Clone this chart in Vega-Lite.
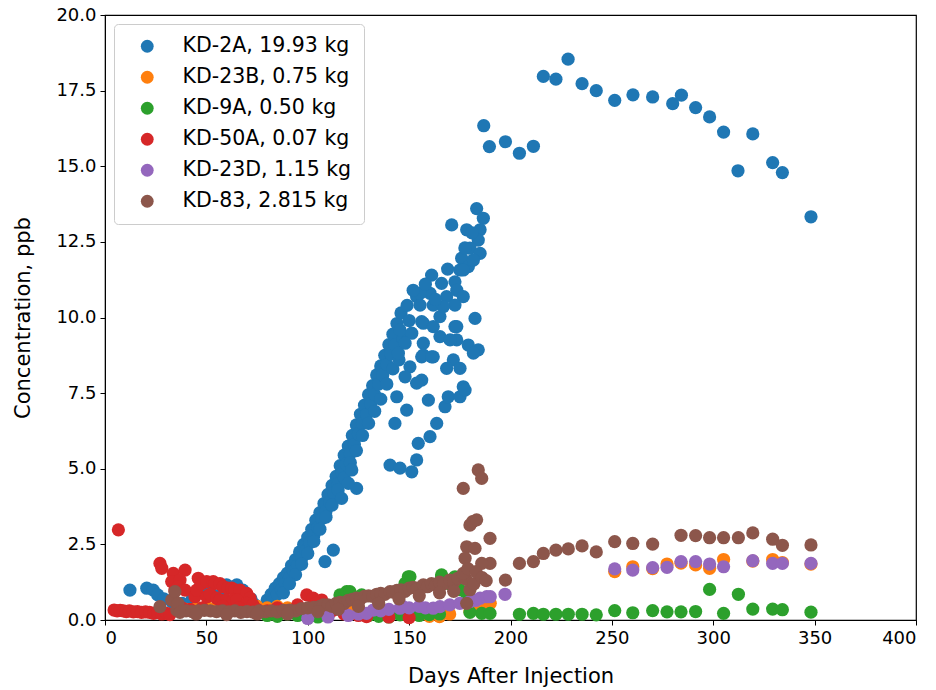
{
  "$schema": "https://vega.github.io/schema/vega-lite/v6.json",
  "width": 811,
  "height": 605,
  "autosize": "none",
  "padding": {"left": 105, "top": 15, "right": 20, "bottom": 70},
  "background": "white",
  "config": {
    "font": "DejaVu Sans",
    "view": {"stroke": "black", "strokeWidth": 1.2},
    "axis": {"grid": false, "domainColor": "black", "tickColor": "black", "tickSize": 5, "labelFontSize": 18, "labelColor": "black", "titleFontSize": 21, "titleFontWeight": "normal", "titleColor": "black", "labelFont": "DejaVu Sans", "titleFont": "DejaVu Sans"}
  },
  "data": {"values": [
    {"series":"KD-2A, 19.93 kg","day":12.3,"ppb":0.99},{"series":"KD-2A, 19.93 kg","day":20.6,"ppb":1.05},{"series":"KD-2A, 19.93 kg","day":23.8,"ppb":0.99},{"series":"KD-2A, 19.93 kg","day":26,"ppb":0.83},{"series":"KD-2A, 19.93 kg","day":29,"ppb":0.7},{"series":"KD-2A, 19.93 kg","day":33,"ppb":0.6},{"series":"KD-2A, 19.93 kg","day":38,"ppb":0.55},{"series":"KD-2A, 19.93 kg","day":43,"ppb":0.7},{"series":"KD-2A, 19.93 kg","day":47,"ppb":1.1},{"series":"KD-2A, 19.93 kg","day":52,"ppb":0.9},{"series":"KD-2A, 19.93 kg","day":56,"ppb":0.8},{"series":"KD-2A, 19.93 kg","day":60,"ppb":1.16},{"series":"KD-2A, 19.93 kg","day":65,"ppb":1.16},{"series":"KD-2A, 19.93 kg","day":68,"ppb":0.99},{"series":"KD-2A, 19.93 kg","day":72,"ppb":0.7},{"series":"KD-2A, 19.93 kg","day":74,"ppb":0.5},{"series":"KD-2A, 19.93 kg","day":76,"ppb":0.4},
    {"series":"KD-2A, 19.93 kg","day":78,"ppb":0.4},{"series":"KD-2A, 19.93 kg","day":80,"ppb":0.66},{"series":"KD-2A, 19.93 kg","day":82,"ppb":0.85},{"series":"KD-2A, 19.93 kg","day":84,"ppb":1.05},{"series":"KD-2A, 19.93 kg","day":86,"ppb":1.2},{"series":"KD-2A, 19.93 kg","day":88,"ppb":1.4},{"series":"KD-2A, 19.93 kg","day":90,"ppb":1.55},{"series":"KD-2A, 19.93 kg","day":92,"ppb":1.8},{"series":"KD-2A, 19.93 kg","day":94,"ppb":2.0},{"series":"KD-2A, 19.93 kg","day":96,"ppb":2.25},{"series":"KD-2A, 19.93 kg","day":98,"ppb":2.5},{"series":"KD-2A, 19.93 kg","day":100,"ppb":2.74},{"series":"KD-2A, 19.93 kg","day":102,"ppb":3.0},{"series":"KD-2A, 19.93 kg","day":104,"ppb":3.3},{"series":"KD-2A, 19.93 kg","day":106,"ppb":3.55},{"series":"KD-2A, 19.93 kg","day":108,"ppb":3.85},{"series":"KD-2A, 19.93 kg","day":110,"ppb":4.15},{"series":"KD-2A, 19.93 kg","day":112,"ppb":4.45},{"series":"KD-2A, 19.93 kg","day":114,"ppb":4.75},{"series":"KD-2A, 19.93 kg","day":116,"ppb":5.1},{"series":"KD-2A, 19.93 kg","day":118,"ppb":5.45},{"series":"KD-2A, 19.93 kg","day":120,"ppb":5.75},{"series":"KD-2A, 19.93 kg","day":122,"ppb":6.1},{"series":"KD-2A, 19.93 kg","day":124,"ppb":6.45},{"series":"KD-2A, 19.93 kg","day":126,"ppb":6.8},{"series":"KD-2A, 19.93 kg","day":128,"ppb":7.1},{"series":"KD-2A, 19.93 kg","day":130,"ppb":7.45},{"series":"KD-2A, 19.93 kg","day":132,"ppb":7.75},{"series":"KD-2A, 19.93 kg","day":134,"ppb":8.1},{"series":"KD-2A, 19.93 kg","day":136,"ppb":8.4},{"series":"KD-2A, 19.93 kg","day":138,"ppb":8.75},{"series":"KD-2A, 19.93 kg","day":140,"ppb":9.1},{"series":"KD-2A, 19.93 kg","day":142,"ppb":9.45},{"series":"KD-2A, 19.93 kg","day":144,"ppb":9.8},{"series":"KD-2A, 19.93 kg","day":146,"ppb":10.15},
    {"series":"KD-2A, 19.93 kg","day":81,"ppb":0.45},{"series":"KD-2A, 19.93 kg","day":83,"ppb":0.65},{"series":"KD-2A, 19.93 kg","day":85,"ppb":0.85},{"series":"KD-2A, 19.93 kg","day":87,"ppb":1.0},{"series":"KD-2A, 19.93 kg","day":89,"ppb":1.2},{"series":"KD-2A, 19.93 kg","day":91,"ppb":1.4},{"series":"KD-2A, 19.93 kg","day":93,"ppb":1.6},{"series":"KD-2A, 19.93 kg","day":95,"ppb":1.8},{"series":"KD-2A, 19.93 kg","day":97,"ppb":2.05},{"series":"KD-2A, 19.93 kg","day":99,"ppb":2.3},{"series":"KD-2A, 19.93 kg","day":101,"ppb":2.55},{"series":"KD-2A, 19.93 kg","day":103,"ppb":2.8},{"series":"KD-2A, 19.93 kg","day":105,"ppb":3.05},{"series":"KD-2A, 19.93 kg","day":107,"ppb":3.35},{"series":"KD-2A, 19.93 kg","day":109,"ppb":3.6},{"series":"KD-2A, 19.93 kg","day":111,"ppb":3.9},{"series":"KD-2A, 19.93 kg","day":113,"ppb":4.2},{"series":"KD-2A, 19.93 kg","day":115,"ppb":4.5},{"series":"KD-2A, 19.93 kg","day":117,"ppb":4.85},{"series":"KD-2A, 19.93 kg","day":119,"ppb":5.15},{"series":"KD-2A, 19.93 kg","day":121,"ppb":5.5},{"series":"KD-2A, 19.93 kg","day":123,"ppb":5.8},{"series":"KD-2A, 19.93 kg","day":125,"ppb":6.15},{"series":"KD-2A, 19.93 kg","day":127,"ppb":6.5},{"series":"KD-2A, 19.93 kg","day":129,"ppb":6.8},{"series":"KD-2A, 19.93 kg","day":131,"ppb":7.15},{"series":"KD-2A, 19.93 kg","day":133,"ppb":7.45},{"series":"KD-2A, 19.93 kg","day":135,"ppb":7.8},{"series":"KD-2A, 19.93 kg","day":137,"ppb":8.1},{"series":"KD-2A, 19.93 kg","day":139,"ppb":8.45},{"series":"KD-2A, 19.93 kg","day":141,"ppb":8.8},{"series":"KD-2A, 19.93 kg","day":143,"ppb":9.1},
    {"series":"KD-2A, 19.93 kg","day":88,"ppb":0.9},{"series":"KD-2A, 19.93 kg","day":94,"ppb":1.5},{"series":"KD-2A, 19.93 kg","day":100,"ppb":2.2},{"series":"KD-2A, 19.93 kg","day":106,"ppb":3.0},{"series":"KD-2A, 19.93 kg","day":112,"ppb":3.8},{"series":"KD-2A, 19.93 kg","day":118,"ppb":4.7},{"series":"KD-2A, 19.93 kg","day":124,"ppb":5.6},{"series":"KD-2A, 19.93 kg","day":130,"ppb":6.5},{"series":"KD-2A, 19.93 kg","day":136,"ppb":7.3},{"series":"KD-2A, 19.93 kg","day":142,"ppb":8.3},
    {"series":"KD-2A, 19.93 kg","day":91,"ppb":1.2},{"series":"KD-2A, 19.93 kg","day":97,"ppb":1.85},{"series":"KD-2A, 19.93 kg","day":103,"ppb":2.6},{"series":"KD-2A, 19.93 kg","day":109,"ppb":3.4},{"series":"KD-2A, 19.93 kg","day":115,"ppb":4.3},{"series":"KD-2A, 19.93 kg","day":121,"ppb":5.2},{"series":"KD-2A, 19.93 kg","day":127,"ppb":6.1},{"series":"KD-2A, 19.93 kg","day":133,"ppb":6.9},{"series":"KD-2A, 19.93 kg","day":139,"ppb":7.8},{"series":"KD-2A, 19.93 kg","day":145,"ppb":8.6},{"series":"KD-2A, 19.93 kg","day":147,"ppb":9.3},{"series":"KD-2A, 19.93 kg","day":150,"ppb":9.9},
    {"series":"KD-2A, 19.93 kg","day":183.3,"ppb":13.6},{"series":"KD-2A, 19.93 kg","day":186.6,"ppb":13.28},{"series":"KD-2A, 19.93 kg","day":185,"ppb":12.9},{"series":"KD-2A, 19.93 kg","day":184.1,"ppb":12.56},{"series":"KD-2A, 19.93 kg","day":171,"ppb":13.06},{"series":"KD-2A, 19.93 kg","day":178.4,"ppb":12.9},{"series":"KD-2A, 19.93 kg","day":180,"ppb":12.29},{"series":"KD-2A, 19.93 kg","day":185,"ppb":12.12},{"series":"KD-2A, 19.93 kg","day":175.9,"ppb":11.96},{"series":"KD-2A, 19.93 kg","day":175.1,"ppb":11.57},{"series":"KD-2A, 19.93 kg","day":179.2,"ppb":11.68},{"series":"KD-2A, 19.93 kg","day":161.1,"ppb":11.4},{"series":"KD-2A, 19.93 kg","day":166,"ppb":11.13},{"series":"KD-2A, 19.93 kg","day":172.6,"ppb":11.18},{"series":"KD-2A, 19.93 kg","day":173.5,"ppb":10.9},{"series":"KD-2A, 19.93 kg","day":153.7,"ppb":10.69},{"series":"KD-2A, 19.93 kg","day":160.3,"ppb":10.8},{"series":"KD-2A, 19.93 kg","day":168.5,"ppb":10.69},{"series":"KD-2A, 19.93 kg","day":176.7,"ppb":10.69},{"series":"KD-2A, 19.93 kg","day":155.4,"ppb":10.41},{"series":"KD-2A, 19.93 kg","day":161.9,"ppb":10.41},{"series":"KD-2A, 19.93 kg","day":172.6,"ppb":10.41},{"series":"KD-2A, 19.93 kg","day":165.2,"ppb":10.03},{"series":"KD-2A, 19.93 kg","day":182.5,"ppb":9.97},{"series":"KD-2A, 19.93 kg","day":157,"ppb":9.81},{"series":"KD-2A, 19.93 kg","day":161.9,"ppb":9.7},{"series":"KD-2A, 19.93 kg","day":172.6,"ppb":9.7},{"series":"KD-2A, 19.93 kg","day":145.5,"ppb":9.59},{"series":"KD-2A, 19.93 kg","day":151.3,"ppb":9.48},{"series":"KD-2A, 19.93 kg","day":165.2,"ppb":9.37},{"series":"KD-2A, 19.93 kg","day":173.5,"ppb":9.26},{"series":"KD-2A, 19.93 kg","day":148,"ppb":9.15},{"series":"KD-2A, 19.93 kg","day":157,"ppb":9.15},{"series":"KD-2A, 19.93 kg","day":179.2,"ppb":9.09},{"series":"KD-2A, 19.93 kg","day":184.1,"ppb":8.93},{"series":"KD-2A, 19.93 kg","day":144.7,"ppb":8.82},{"series":"KD-2A, 19.93 kg","day":157,"ppb":8.76},{"series":"KD-2A, 19.93 kg","day":171.8,"ppb":8.6},{"series":"KD-2A, 19.93 kg","day":150.4,"ppb":8.37},{"series":"KD-2A, 19.93 kg","day":161.9,"ppb":8.7},{"series":"KD-2A, 19.93 kg","day":168.5,"ppb":8.32},{"series":"KD-2A, 19.93 kg","day":175.1,"ppb":8.32},{"series":"KD-2A, 19.93 kg","day":148,"ppb":8.04},{"series":"KD-2A, 19.93 kg","day":156.2,"ppb":7.93},{"series":"KD-2A, 19.93 kg","day":176.7,"ppb":7.71},{"series":"KD-2A, 19.93 kg","day":181.7,"ppb":8.82},{"series":"KD-2A, 19.93 kg","day":156.2,"ppb":8.7},{"series":"KD-2A, 19.93 kg","day":161.1,"ppb":8.7},{"series":"KD-2A, 19.93 kg","day":170.2,"ppb":9.26},{"series":"KD-2A, 19.93 kg","day":173.5,"ppb":9.7},{"series":"KD-2A, 19.93 kg","day":156.2,"ppb":9.86},{"series":"KD-2A, 19.93 kg","day":166.9,"ppb":10.36},{"series":"KD-2A, 19.93 kg","day":155.4,"ppb":10.8},{"series":"KD-2A, 19.93 kg","day":176.7,"ppb":11.57},{"series":"KD-2A, 19.93 kg","day":181.7,"ppb":11.9},{"series":"KD-2A, 19.93 kg","day":149,"ppb":10.4},{"series":"KD-2A, 19.93 kg","day":152,"ppb":10.9},{"series":"KD-2A, 19.93 kg","day":158,"ppb":11.1},{"series":"KD-2A, 19.93 kg","day":163,"ppb":10.6},{"series":"KD-2A, 19.93 kg","day":169,"ppb":11.6},{"series":"KD-2A, 19.93 kg","day":177.5,"ppb":12.3},{"series":"KD-2A, 19.93 kg","day":181,"ppb":12.8},
    {"series":"KD-2A, 19.93 kg","day":140.6,"ppb":5.12},{"series":"KD-2A, 19.93 kg","day":145.5,"ppb":5.02},{"series":"KD-2A, 19.93 kg","day":151.3,"ppb":4.9},{"series":"KD-2A, 19.93 kg","day":153.7,"ppb":5.29},{"series":"KD-2A, 19.93 kg","day":154.5,"ppb":5.84},{"series":"KD-2A, 19.93 kg","day":160.3,"ppb":6.06},{"series":"KD-2A, 19.93 kg","day":163.6,"ppb":6.5},{"series":"KD-2A, 19.93 kg","day":167.7,"ppb":7.05},{"series":"KD-2A, 19.93 kg","day":169.3,"ppb":7.38},{"series":"KD-2A, 19.93 kg","day":175.1,"ppb":7.38},{"series":"KD-2A, 19.93 kg","day":177.6,"ppb":7.6},{"series":"KD-2A, 19.93 kg","day":159.5,"ppb":7.27},{"series":"KD-2A, 19.93 kg","day":143,"ppb":6.5},{"series":"KD-2A, 19.93 kg","day":143.9,"ppb":7.38},{"series":"KD-2A, 19.93 kg","day":148.8,"ppb":6.94},{"series":"KD-2A, 19.93 kg","day":153.7,"ppb":7.83},{"series":"KD-2A, 19.93 kg","day":124.1,"ppb":4.35},{"series":"KD-2A, 19.93 kg","day":120,"ppb":4.52},{"series":"KD-2A, 19.93 kg","day":121.7,"ppb":4.96},{"series":"KD-2A, 19.93 kg","day":116.7,"ppb":4.02},{"series":"KD-2A, 19.93 kg","day":112.6,"ppb":2.31},{"series":"KD-2A, 19.93 kg","day":108.5,"ppb":1.93},
    {"series":"KD-2A, 19.93 kg","day":186.8,"ppb":16.34},{"series":"KD-2A, 19.93 kg","day":189.6,"ppb":15.65},{"series":"KD-2A, 19.93 kg","day":197.5,"ppb":15.81},{"series":"KD-2A, 19.93 kg","day":204.4,"ppb":15.43},{"series":"KD-2A, 19.93 kg","day":211.3,"ppb":15.66},{"series":"KD-2A, 19.93 kg","day":216.2,"ppb":17.97},{"series":"KD-2A, 19.93 kg","day":222.4,"ppb":17.88},{"series":"KD-2A, 19.93 kg","day":228.4,"ppb":18.54},{"series":"KD-2A, 19.93 kg","day":235.3,"ppb":17.73},{"series":"KD-2A, 19.93 kg","day":242.3,"ppb":17.5},{"series":"KD-2A, 19.93 kg","day":251.4,"ppb":17.18},{"series":"KD-2A, 19.93 kg","day":260.4,"ppb":17.36},{"series":"KD-2A, 19.93 kg","day":270.1,"ppb":17.29},{"series":"KD-2A, 19.93 kg","day":280,"ppb":17.07},{"series":"KD-2A, 19.93 kg","day":284.3,"ppb":17.35},{"series":"KD-2A, 19.93 kg","day":291.3,"ppb":16.94},{"series":"KD-2A, 19.93 kg","day":298.2,"ppb":16.63},{"series":"KD-2A, 19.93 kg","day":305.1,"ppb":16.13},{"series":"KD-2A, 19.93 kg","day":312.2,"ppb":14.85},{"series":"KD-2A, 19.93 kg","day":319.5,"ppb":16.07},{"series":"KD-2A, 19.93 kg","day":329.3,"ppb":15.12},{"series":"KD-2A, 19.93 kg","day":334.1,"ppb":14.79},{"series":"KD-2A, 19.93 kg","day":348.2,"ppb":13.33},

    {"series":"KD-23B, 0.75 kg","day":40,"ppb":0.35},{"series":"KD-23B, 0.75 kg","day":45,"ppb":0.4},{"series":"KD-23B, 0.75 kg","day":50,"ppb":0.45},{"series":"KD-23B, 0.75 kg","day":55,"ppb":0.4},{"series":"KD-23B, 0.75 kg","day":60,"ppb":0.45},{"series":"KD-23B, 0.75 kg","day":65,"ppb":0.5},{"series":"KD-23B, 0.75 kg","day":70,"ppb":0.55},{"series":"KD-23B, 0.75 kg","day":75,"ppb":0.45},{"series":"KD-23B, 0.75 kg","day":80,"ppb":0.4},{"series":"KD-23B, 0.75 kg","day":85,"ppb":0.45},{"series":"KD-23B, 0.75 kg","day":90,"ppb":0.4},{"series":"KD-23B, 0.75 kg","day":95,"ppb":0.35},{"series":"KD-23B, 0.75 kg","day":100,"ppb":0.3},{"series":"KD-23B, 0.75 kg","day":105,"ppb":0.3},{"series":"KD-23B, 0.75 kg","day":110,"ppb":0.35},{"series":"KD-23B, 0.75 kg","day":120,"ppb":0.3},{"series":"KD-23B, 0.75 kg","day":130,"ppb":0.2},{"series":"KD-23B, 0.75 kg","day":140,"ppb":0.15},{"series":"KD-23B, 0.75 kg","day":150,"ppb":0.1},{"series":"KD-23B, 0.75 kg","day":160,"ppb":0.12},{"series":"KD-23B, 0.75 kg","day":165,"ppb":0.11},{"series":"KD-23B, 0.75 kg","day":170,"ppb":0.2},{"series":"KD-23B, 0.75 kg","day":180,"ppb":0.3},{"series":"KD-23B, 0.75 kg","day":185,"ppb":0.5},{"series":"KD-23B, 0.75 kg","day":190,"ppb":0.55},
    {"series":"KD-23B, 0.75 kg","day":251.4,"ppb":1.6},{"series":"KD-23B, 0.75 kg","day":260.3,"ppb":1.76},{"series":"KD-23B, 0.75 kg","day":270.1,"ppb":1.7},{"series":"KD-23B, 0.75 kg","day":277.2,"ppb":1.85},{"series":"KD-23B, 0.75 kg","day":284.1,"ppb":1.88},{"series":"KD-23B, 0.75 kg","day":291.3,"ppb":1.82},{"series":"KD-23B, 0.75 kg","day":298.2,"ppb":1.71},{"series":"KD-23B, 0.75 kg","day":305.1,"ppb":2.0},{"series":"KD-23B, 0.75 kg","day":319.5,"ppb":1.95},{"series":"KD-23B, 0.75 kg","day":329.3,"ppb":2.0},{"series":"KD-23B, 0.75 kg","day":334.1,"ppb":1.9},{"series":"KD-23B, 0.75 kg","day":348.2,"ppb":1.85},

    {"series":"KD-9A, 0.50 kg","day":80,"ppb":0.15},{"series":"KD-9A, 0.50 kg","day":85,"ppb":0.12},{"series":"KD-9A, 0.50 kg","day":90,"ppb":0.2},{"series":"KD-9A, 0.50 kg","day":95,"ppb":0.15},{"series":"KD-9A, 0.50 kg","day":100,"ppb":0.18},{"series":"KD-9A, 0.50 kg","day":105,"ppb":0.1},{"series":"KD-9A, 0.50 kg","day":110,"ppb":0.15},{"series":"KD-9A, 0.50 kg","day":115.9,"ppb":0.83},{"series":"KD-9A, 0.50 kg","day":118.4,"ppb":0.83},{"series":"KD-9A, 0.50 kg","day":119.2,"ppb":0.94},{"series":"KD-9A, 0.50 kg","day":120.8,"ppb":0.94},{"series":"KD-9A, 0.50 kg","day":123,"ppb":0.75},{"series":"KD-9A, 0.50 kg","day":126.6,"ppb":0.83},{"series":"KD-9A, 0.50 kg","day":125,"ppb":0.2},{"series":"KD-9A, 0.50 kg","day":130,"ppb":0.15},{"series":"KD-9A, 0.50 kg","day":135,"ppb":0.12},{"series":"KD-9A, 0.50 kg","day":140,"ppb":0.1},{"series":"KD-9A, 0.50 kg","day":145.5,"ppb":0.17},{"series":"KD-9A, 0.50 kg","day":148,"ppb":1.21},{"series":"KD-9A, 0.50 kg","day":148.8,"ppb":1.21},{"series":"KD-9A, 0.50 kg","day":149.6,"ppb":1.43},{"series":"KD-9A, 0.50 kg","day":150.4,"ppb":1.43},{"series":"KD-9A, 0.50 kg","day":150.4,"ppb":0.17},{"series":"KD-9A, 0.50 kg","day":155,"ppb":0.15},{"series":"KD-9A, 0.50 kg","day":160,"ppb":0.18},{"series":"KD-9A, 0.50 kg","day":165,"ppb":0.2},{"series":"KD-9A, 0.50 kg","day":166.1,"ppb":1.43},{"series":"KD-9A, 0.50 kg","day":166,"ppb":1.49},{"series":"KD-9A, 0.50 kg","day":172.6,"ppb":1.43},{"series":"KD-9A, 0.50 kg","day":170,"ppb":1.2},{"series":"KD-9A, 0.50 kg","day":175,"ppb":1.0},{"series":"KD-9A, 0.50 kg","day":178,"ppb":0.9},{"series":"KD-9A, 0.50 kg","day":180,"ppb":0.25},{"series":"KD-9A, 0.50 kg","day":185.8,"ppb":0.22},{"series":"KD-9A, 0.50 kg","day":189.9,"ppb":0.22},
    {"series":"KD-9A, 0.50 kg","day":204.4,"ppb":0.19},{"series":"KD-9A, 0.50 kg","day":211.3,"ppb":0.22},{"series":"KD-9A, 0.50 kg","day":216.2,"ppb":0.19},{"series":"KD-9A, 0.50 kg","day":222.4,"ppb":0.19},{"series":"KD-9A, 0.50 kg","day":228.5,"ppb":0.19},{"series":"KD-9A, 0.50 kg","day":235.3,"ppb":0.19},{"series":"KD-9A, 0.50 kg","day":242.3,"ppb":0.17},{"series":"KD-9A, 0.50 kg","day":251.4,"ppb":0.31},{"series":"KD-9A, 0.50 kg","day":260.3,"ppb":0.24},{"series":"KD-9A, 0.50 kg","day":270.1,"ppb":0.31},{"series":"KD-9A, 0.50 kg","day":277.2,"ppb":0.27},{"series":"KD-9A, 0.50 kg","day":284.1,"ppb":0.27},{"series":"KD-9A, 0.50 kg","day":291.3,"ppb":0.28},{"series":"KD-9A, 0.50 kg","day":298.2,"ppb":1.01},{"series":"KD-9A, 0.50 kg","day":305.1,"ppb":0.22},{"series":"KD-9A, 0.50 kg","day":312.4,"ppb":0.85},{"series":"KD-9A, 0.50 kg","day":319.5,"ppb":0.36},{"series":"KD-9A, 0.50 kg","day":329.3,"ppb":0.36},{"series":"KD-9A, 0.50 kg","day":334.1,"ppb":0.34},{"series":"KD-9A, 0.50 kg","day":348.2,"ppb":0.26},

    {"series":"KD-50A, 0.07 kg","day":6.6,"ppb":2.98},{"series":"KD-50A, 0.07 kg","day":4.5,"ppb":0.33},{"series":"KD-50A, 0.07 kg","day":6,"ppb":0.3},{"series":"KD-50A, 0.07 kg","day":7.5,"ppb":0.32},{"series":"KD-50A, 0.07 kg","day":9,"ppb":0.3},{"series":"KD-50A, 0.07 kg","day":10.5,"ppb":0.28},{"series":"KD-50A, 0.07 kg","day":12,"ppb":0.3},{"series":"KD-50A, 0.07 kg","day":14,"ppb":0.27},{"series":"KD-50A, 0.07 kg","day":16,"ppb":0.28},{"series":"KD-50A, 0.07 kg","day":18,"ppb":0.25},{"series":"KD-50A, 0.07 kg","day":20,"ppb":0.27},{"series":"KD-50A, 0.07 kg","day":22,"ppb":0.25},{"series":"KD-50A, 0.07 kg","day":24,"ppb":0.22},{"series":"KD-50A, 0.07 kg","day":26,"ppb":0.25},{"series":"KD-50A, 0.07 kg","day":28,"ppb":0.2},{"series":"KD-50A, 0.07 kg","day":30.4,"ppb":0.22},{"series":"KD-50A, 0.07 kg","day":32,"ppb":0.18},{"series":"KD-50A, 0.07 kg","day":27.1,"ppb":1.87},{"series":"KD-50A, 0.07 kg","day":28,"ppb":1.71},{"series":"KD-50A, 0.07 kg","day":33.7,"ppb":1.54},{"series":"KD-50A, 0.07 kg","day":39.5,"ppb":1.65},{"series":"KD-50A, 0.07 kg","day":32.9,"ppb":1.27},{"series":"KD-50A, 0.07 kg","day":34.5,"ppb":0.99},{"series":"KD-50A, 0.07 kg","day":37,"ppb":1.32},{"series":"KD-50A, 0.07 kg","day":36,"ppb":1.1},{"series":"KD-50A, 0.07 kg","day":39.5,"ppb":0.99},{"series":"KD-50A, 0.07 kg","day":46,"ppb":1.38},{"series":"KD-50A, 0.07 kg","day":44.4,"ppb":0.77},{"series":"KD-50A, 0.07 kg","day":45.2,"ppb":0.99},{"series":"KD-50A, 0.07 kg","day":47.5,"ppb":1.2},{"series":"KD-50A, 0.07 kg","day":50.2,"ppb":1.27},{"series":"KD-50A, 0.07 kg","day":53.4,"ppb":1.27},{"series":"KD-50A, 0.07 kg","day":54.3,"ppb":1.21},{"series":"KD-50A, 0.07 kg","day":56.7,"ppb":1.2},{"series":"KD-50A, 0.07 kg","day":58.3,"ppb":1.1},{"series":"KD-50A, 0.07 kg","day":60.5,"ppb":1.05},{"series":"KD-50A, 0.07 kg","day":62.5,"ppb":1.05},{"series":"KD-50A, 0.07 kg","day":64,"ppb":1.0},{"series":"KD-50A, 0.07 kg","day":66.6,"ppb":0.99},{"series":"KD-50A, 0.07 kg","day":69.9,"ppb":0.88},{"series":"KD-50A, 0.07 kg","day":71.5,"ppb":0.72},{"series":"KD-50A, 0.07 kg","day":50.2,"ppb":0.77},{"series":"KD-50A, 0.07 kg","day":51.8,"ppb":0.85},{"series":"KD-50A, 0.07 kg","day":55.1,"ppb":0.72},{"series":"KD-50A, 0.07 kg","day":56.7,"ppb":0.66},{"series":"KD-50A, 0.07 kg","day":60,"ppb":0.66},{"series":"KD-50A, 0.07 kg","day":63.3,"ppb":0.66},{"series":"KD-50A, 0.07 kg","day":65,"ppb":0.66},{"series":"KD-50A, 0.07 kg","day":69.9,"ppb":0.55},{"series":"KD-50A, 0.07 kg","day":73,"ppb":0.5},{"series":"KD-50A, 0.07 kg","day":38,"ppb":0.4},{"series":"KD-50A, 0.07 kg","day":42,"ppb":0.35},{"series":"KD-50A, 0.07 kg","day":48,"ppb":0.4},{"series":"KD-50A, 0.07 kg","day":58,"ppb":0.45},{"series":"KD-50A, 0.07 kg","day":66,"ppb":0.4},{"series":"KD-50A, 0.07 kg","day":75,"ppb":0.35},{"series":"KD-50A, 0.07 kg","day":80,"ppb":0.3},{"series":"KD-50A, 0.07 kg","day":85,"ppb":0.4},{"series":"KD-50A, 0.07 kg","day":90,"ppb":0.3},{"series":"KD-50A, 0.07 kg","day":95,"ppb":0.5},{"series":"KD-50A, 0.07 kg","day":99.5,"ppb":0.83},{"series":"KD-50A, 0.07 kg","day":102.7,"ppb":0.72},{"series":"KD-50A, 0.07 kg","day":106.9,"ppb":0.66},{"series":"KD-50A, 0.07 kg","day":104,"ppb":0.55},{"series":"KD-50A, 0.07 kg","day":109,"ppb":0.45},{"series":"KD-50A, 0.07 kg","day":112,"ppb":0.3},{"series":"KD-50A, 0.07 kg","day":118,"ppb":0.2},{"series":"KD-50A, 0.07 kg","day":125,"ppb":0.15},{"series":"KD-50A, 0.07 kg","day":129,"ppb":0.11},{"series":"KD-50A, 0.07 kg","day":140,"ppb":0.1},{"series":"KD-50A, 0.07 kg","day":150,"ppb":0.08},

    {"series":"KD-23D, 1.15 kg","day":100,"ppb":0.05},{"series":"KD-23D, 1.15 kg","day":110,"ppb":0.1},{"series":"KD-23D, 1.15 kg","day":120,"ppb":0.15},{"series":"KD-23D, 1.15 kg","day":125,"ppb":0.2},{"series":"KD-23D, 1.15 kg","day":129,"ppb":0.22},{"series":"KD-23D, 1.15 kg","day":132.3,"ppb":0.33},{"series":"KD-23D, 1.15 kg","day":136,"ppb":0.3},{"series":"KD-23D, 1.15 kg","day":140,"ppb":0.35},{"series":"KD-23D, 1.15 kg","day":145.5,"ppb":0.39},{"series":"KD-23D, 1.15 kg","day":147,"ppb":0.44},{"series":"KD-23D, 1.15 kg","day":150,"ppb":0.4},{"series":"KD-23D, 1.15 kg","day":155,"ppb":0.45},{"series":"KD-23D, 1.15 kg","day":158,"ppb":0.4},{"series":"KD-23D, 1.15 kg","day":161.9,"ppb":0.39},{"series":"KD-23D, 1.15 kg","day":165.2,"ppb":0.44},{"series":"KD-23D, 1.15 kg","day":170,"ppb":0.5},{"series":"KD-23D, 1.15 kg","day":175,"ppb":0.55},{"series":"KD-23D, 1.15 kg","day":180,"ppb":0.61},{"series":"KD-23D, 1.15 kg","day":183,"ppb":0.65},{"series":"KD-23D, 1.15 kg","day":185,"ppb":0.72},{"series":"KD-23D, 1.15 kg","day":188.3,"ppb":0.77},{"series":"KD-23D, 1.15 kg","day":190,"ppb":0.77},{"series":"KD-23D, 1.15 kg","day":197.3,"ppb":0.85},
    {"series":"KD-23D, 1.15 kg","day":251.4,"ppb":1.69},{"series":"KD-23D, 1.15 kg","day":260.3,"ppb":1.65},{"series":"KD-23D, 1.15 kg","day":270.1,"ppb":1.73},{"series":"KD-23D, 1.15 kg","day":277.2,"ppb":1.74},{"series":"KD-23D, 1.15 kg","day":284.1,"ppb":1.93},{"series":"KD-23D, 1.15 kg","day":291.3,"ppb":1.93},{"series":"KD-23D, 1.15 kg","day":298.2,"ppb":1.85},{"series":"KD-23D, 1.15 kg","day":305.1,"ppb":1.76},{"series":"KD-23D, 1.15 kg","day":319.5,"ppb":1.96},{"series":"KD-23D, 1.15 kg","day":329.3,"ppb":1.87},{"series":"KD-23D, 1.15 kg","day":334.1,"ppb":1.87},{"series":"KD-23D, 1.15 kg","day":348.2,"ppb":1.87},

    {"series":"KD-83, 2.815 kg","day":27.1,"ppb":0.44},{"series":"KD-83, 2.815 kg","day":32.9,"ppb":0.66},{"series":"KD-83, 2.815 kg","day":34.5,"ppb":0.94},{"series":"KD-83, 2.815 kg","day":35.4,"ppb":0.33},{"series":"KD-83, 2.815 kg","day":36,"ppb":0.55},{"series":"KD-83, 2.815 kg","day":37,"ppb":0.25},{"series":"KD-83, 2.815 kg","day":40,"ppb":0.3},{"series":"KD-83, 2.815 kg","day":43,"ppb":0.28},{"series":"KD-83, 2.815 kg","day":46,"ppb":0.3},{"series":"KD-83, 2.815 kg","day":49,"ppb":0.32},{"series":"KD-83, 2.815 kg","day":52,"ppb":0.3},{"series":"KD-83, 2.815 kg","day":55,"ppb":0.28},{"series":"KD-83, 2.815 kg","day":58,"ppb":0.3},{"series":"KD-83, 2.815 kg","day":61,"ppb":0.27},{"series":"KD-83, 2.815 kg","day":64,"ppb":0.3},{"series":"KD-83, 2.815 kg","day":67,"ppb":0.25},{"series":"KD-83, 2.815 kg","day":70,"ppb":0.28},{"series":"KD-83, 2.815 kg","day":73,"ppb":0.26},{"series":"KD-83, 2.815 kg","day":76,"ppb":0.3},{"series":"KD-83, 2.815 kg","day":79,"ppb":0.28},{"series":"KD-83, 2.815 kg","day":82,"ppb":0.3},{"series":"KD-83, 2.815 kg","day":85,"ppb":0.27},{"series":"KD-83, 2.815 kg","day":88,"ppb":0.32},{"series":"KD-83, 2.815 kg","day":91,"ppb":0.33},{"series":"KD-83, 2.815 kg","day":94,"ppb":0.3},{"series":"KD-83, 2.815 kg","day":97,"ppb":0.38},{"series":"KD-83, 2.815 kg","day":100,"ppb":0.4},{"series":"KD-83, 2.815 kg","day":103,"ppb":0.42},{"series":"KD-83, 2.815 kg","day":106,"ppb":0.45},{"series":"KD-83, 2.815 kg","day":107.7,"ppb":0.5},{"series":"KD-83, 2.815 kg","day":110,"ppb":0.5},{"series":"KD-83, 2.815 kg","day":112,"ppb":0.45},{"series":"KD-83, 2.815 kg","day":114,"ppb":0.55},{"series":"KD-83, 2.815 kg","day":116,"ppb":0.58},{"series":"KD-83, 2.815 kg","day":118,"ppb":0.55},{"series":"KD-83, 2.815 kg","day":120,"ppb":0.65},{"series":"KD-83, 2.815 kg","day":122,"ppb":0.68},{"series":"KD-83, 2.815 kg","day":124,"ppb":0.72},{"series":"KD-83, 2.815 kg","day":126,"ppb":0.7},{"series":"KD-83, 2.815 kg","day":128,"ppb":0.78},{"series":"KD-83, 2.815 kg","day":130,"ppb":0.8},{"series":"KD-83, 2.815 kg","day":132,"ppb":0.78},{"series":"KD-83, 2.815 kg","day":134,"ppb":0.85},{"series":"KD-83, 2.815 kg","day":136,"ppb":0.88},{"series":"KD-83, 2.815 kg","day":138,"ppb":0.85},{"series":"KD-83, 2.815 kg","day":140.6,"ppb":0.94},{"series":"KD-83, 2.815 kg","day":142,"ppb":0.92},{"series":"KD-83, 2.815 kg","day":144,"ppb":0.98},{"series":"KD-83, 2.815 kg","day":146,"ppb":1.0},{"series":"KD-83, 2.815 kg","day":148,"ppb":0.95},{"series":"KD-83, 2.815 kg","day":150,"ppb":1.05},{"series":"KD-83, 2.815 kg","day":152,"ppb":1.08},{"series":"KD-83, 2.815 kg","day":154,"ppb":1.05},{"series":"KD-83, 2.815 kg","day":157,"ppb":1.16},{"series":"KD-83, 2.815 kg","day":159,"ppb":1.1},{"series":"KD-83, 2.815 kg","day":161,"ppb":1.2},{"series":"KD-83, 2.815 kg","day":163,"ppb":1.15},{"series":"KD-83, 2.815 kg","day":165,"ppb":1.25},{"series":"KD-83, 2.815 kg","day":167,"ppb":1.2},{"series":"KD-83, 2.815 kg","day":170,"ppb":1.32},{"series":"KD-83, 2.815 kg","day":172,"ppb":1.25},{"series":"KD-83, 2.815 kg","day":174,"ppb":1.38},{"series":"KD-83, 2.815 kg","day":176.7,"ppb":1.43},{"series":"KD-83, 2.815 kg","day":178,"ppb":1.35},{"series":"KD-83, 2.815 kg","day":115,"ppb":0.35},{"series":"KD-83, 2.815 kg","day":125,"ppb":0.45},{"series":"KD-83, 2.815 kg","day":135,"ppb":0.55},{"series":"KD-83, 2.815 kg","day":145,"ppb":0.7},{"series":"KD-83, 2.815 kg","day":155,"ppb":0.8},{"series":"KD-83, 2.815 kg","day":165,"ppb":0.9},{"series":"KD-83, 2.815 kg","day":172,"ppb":0.95},{"series":"KD-83, 2.815 kg","day":178.4,"ppb":0.55},{"series":"KD-83, 2.815 kg","day":180,"ppb":1.0},{"series":"KD-83, 2.815 kg","day":182,"ppb":1.2},{"series":"KD-83, 2.815 kg","day":45,"ppb":0.2},{"series":"KD-83, 2.815 kg","day":60,"ppb":0.18},{"series":"KD-83, 2.815 kg","day":75,"ppb":0.2},{"series":"KD-83, 2.815 kg","day":90,"ppb":0.2},{"series":"KD-83, 2.815 kg","day":105,"ppb":0.28},
    {"series":"KD-83, 2.815 kg","day":176.7,"ppb":4.35},{"series":"KD-83, 2.815 kg","day":184.1,"ppb":4.96},{"series":"KD-83, 2.815 kg","day":185.8,"ppb":4.68},{"series":"KD-83, 2.815 kg","day":180,"ppb":3.14},{"series":"KD-83, 2.815 kg","day":181.3,"ppb":3.25},{"series":"KD-83, 2.815 kg","day":183.3,"ppb":3.31},{"series":"KD-83, 2.815 kg","day":189.9,"ppb":2.7},{"series":"KD-83, 2.815 kg","day":178.4,"ppb":2.42},{"series":"KD-83, 2.815 kg","day":182.5,"ppb":2.37},{"series":"KD-83, 2.815 kg","day":177.6,"ppb":2.04},{"series":"KD-83, 2.815 kg","day":189.9,"ppb":1.87},{"series":"KD-83, 2.815 kg","day":185.8,"ppb":1.87},{"series":"KD-83, 2.815 kg","day":176.7,"ppb":1.54},{"series":"KD-83, 2.815 kg","day":179,"ppb":1.7},{"series":"KD-83, 2.815 kg","day":183,"ppb":1.6},{"series":"KD-83, 2.815 kg","day":186,"ppb":1.4},{"series":"KD-83, 2.815 kg","day":188,"ppb":1.3},
    {"series":"KD-83, 2.815 kg","day":197.5,"ppb":1.32},{"series":"KD-83, 2.815 kg","day":204.4,"ppb":1.87},{"series":"KD-83, 2.815 kg","day":211.3,"ppb":1.93},{"series":"KD-83, 2.815 kg","day":216.2,"ppb":2.2},{"series":"KD-83, 2.815 kg","day":222.4,"ppb":2.31},{"series":"KD-83, 2.815 kg","day":228.5,"ppb":2.35},{"series":"KD-83, 2.815 kg","day":235.3,"ppb":2.45},{"series":"KD-83, 2.815 kg","day":242.3,"ppb":2.25},{"series":"KD-83, 2.815 kg","day":251.4,"ppb":2.59},{"series":"KD-83, 2.815 kg","day":260.3,"ppb":2.53},{"series":"KD-83, 2.815 kg","day":270.1,"ppb":2.51},{"series":"KD-83, 2.815 kg","day":284.1,"ppb":2.8},{"series":"KD-83, 2.815 kg","day":291.3,"ppb":2.79},{"series":"KD-83, 2.815 kg","day":298.2,"ppb":2.72},{"series":"KD-83, 2.815 kg","day":305.1,"ppb":2.72},{"series":"KD-83, 2.815 kg","day":312.4,"ppb":2.72},{"series":"KD-83, 2.815 kg","day":319.5,"ppb":2.88},{"series":"KD-83, 2.815 kg","day":329.3,"ppb":2.67},{"series":"KD-83, 2.815 kg","day":334.1,"ppb":2.47},{"series":"KD-83, 2.815 kg","day":348.2,"ppb":2.48}
  ]},
  "mark": {"type": "point", "filled": true, "opacity": 1, "size": 175, "shape": "circle"},
  "encoding": {
    "x": {"field": "day", "type": "quantitative", "title": "Days After Injection", "scale": {"domain": [0, 400], "nice": false, "zero": false}, "axis": {"values": [0, 50, 100, 150, 200, 250, 300, 350, 400], "labelPadding": 4, "titlePadding": 18}},
    "y": {"field": "ppb", "type": "quantitative", "title": "Concentration, ppb", "scale": {"domain": [0, 20], "nice": false}, "axis": {"values": [0, 2.5, 5, 7.5, 10, 12.5, 15, 17.5, 20], "format": ".1f", "labelPadding": 4, "titlePadding": 22}},
    "color": {"field": "series", "type": "nominal", "sort": null,
      "scale": {"domain": ["KD-2A, 19.93 kg", "KD-23B, 0.75 kg", "KD-9A, 0.50 kg", "KD-50A, 0.07 kg", "KD-23D, 1.15 kg", "KD-83, 2.815 kg"], "range": ["#1f77b4", "#ff7f0e", "#2ca02c", "#d62728", "#9467bd", "#8c564b"]},
      "legend": {"title": null, "orient": "top-left", "offset": 9, "labelFontSize": 20.5, "labelLimit": 400, "labelColor": "black", "symbolSize": 165, "symbolType": "circle", "symbolOffset": 11, "labelOffset": 25, "rowPadding": 10, "padding": 12, "fillColor": "white", "strokeColor": "#cccccc", "cornerRadius": 4}
    }
  }
}
